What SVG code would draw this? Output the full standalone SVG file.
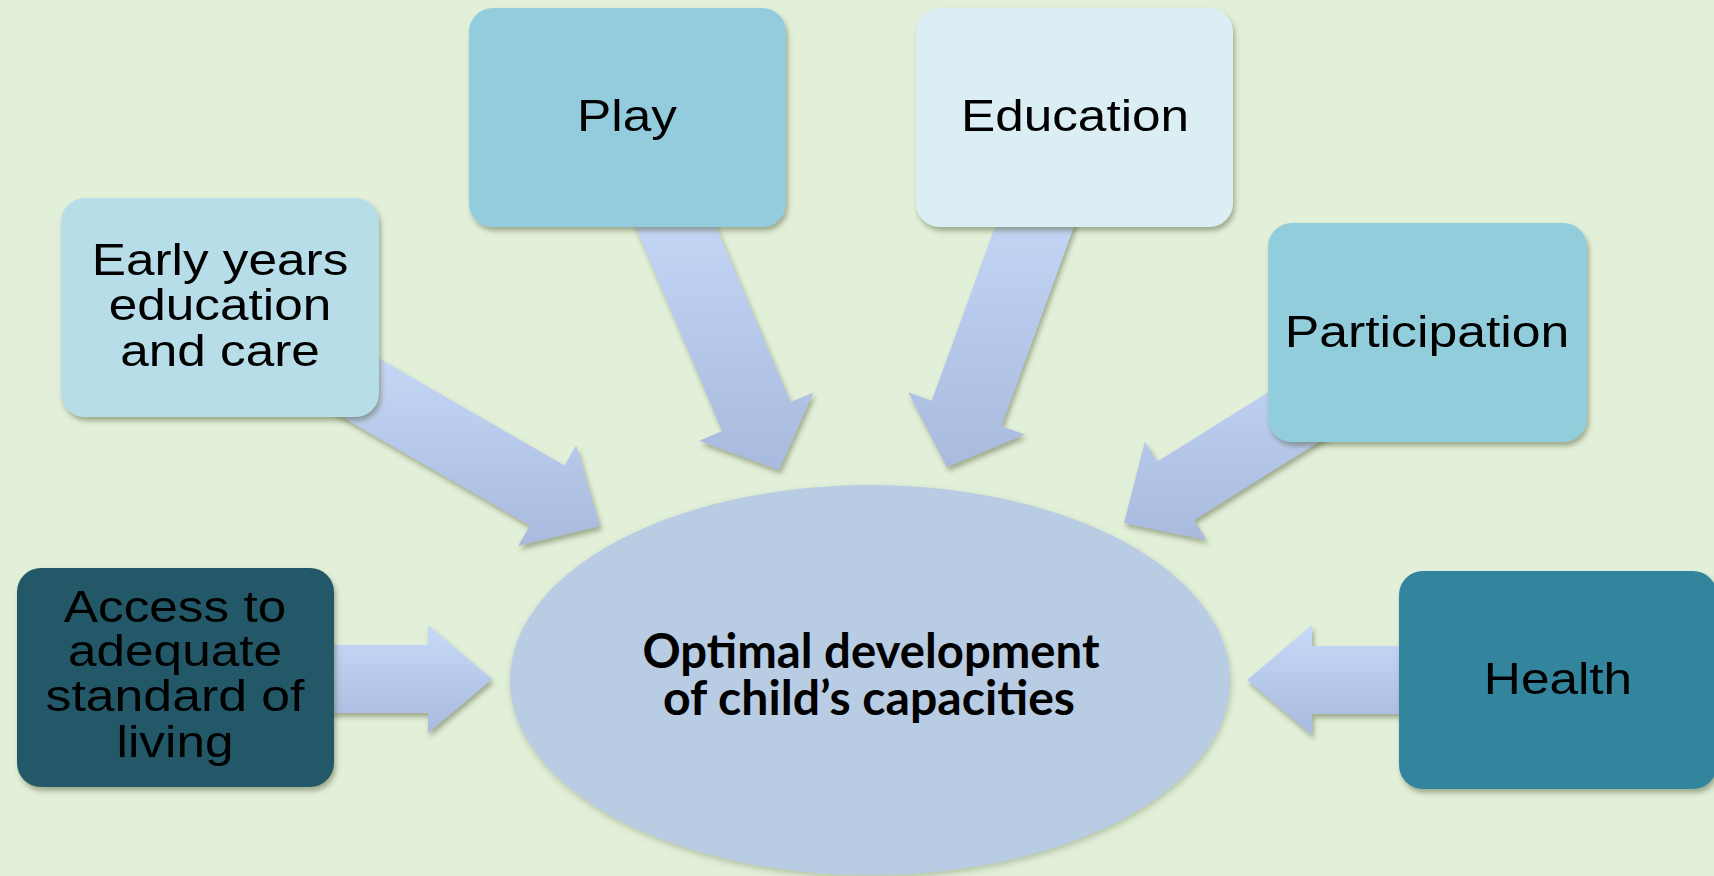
<svg xmlns="http://www.w3.org/2000/svg" width="1714" height="876" viewBox="0 0 1714 876">
  <defs>
    <linearGradient id="arrowGrad" x1="0" y1="0" x2="0" y2="1">
      <stop offset="0" stop-color="#c8daf9"/>
      <stop offset="1" stop-color="#a8badd"/>
    </linearGradient>
    <filter id="shadow" x="-10%" y="-10%" width="125%" height="130%">
      <feDropShadow dx="2" dy="4" stdDeviation="2.5" flood-color="#4d5c33" flood-opacity="0.45"/>
    </filter>
    <filter id="softshadow" x="-5%" y="-5%" width="112%" height="115%">
      <feDropShadow dx="1" dy="3" stdDeviation="3" flood-color="#5a6a40" flood-opacity="0.35"/>
    </filter>
  </defs>
  <style>
    .box { filter: url(#shadow); }
    .arrow { fill: url(#arrowGrad); filter: url(#shadow); }
    .lbl { font-family: "Liberation Sans", Arial, sans-serif; font-size: 45px; fill: #000000; text-anchor: middle; }
    .center { font-family: Lato, "Liberation Sans", sans-serif; font-weight: bold; font-size: 47px; fill: #000000; text-anchor: middle; }
  </style>

  <rect x="0" y="0" width="1714" height="876" fill="#e2efd9"/>

  <g id="center-node">
    <ellipse cx="870" cy="680" rx="360" ry="195" fill="#b8cce4" filter="url(#softshadow)"/>
    <text class="center" x="871" y="668" textLength="457" lengthAdjust="spacingAndGlyphs">Optimal development</text>
    <text class="center" x="869" y="715" textLength="412" lengthAdjust="spacingAndGlyphs">of child’s capacities</text>
  </g>

  <g id="connectors">
    <polygon class="arrow" points="305.6,395.9 530.0,525.4 518.2,545.7 600,526 576.2,445.3 564.5,465.6 340.2,336.1"/>
    <polygon class="arrow" points="627.7,208.3 722.2,431.1 699.2,440.8 779,470 813.4,392.4 790.4,402.1 695.9,179.3"/>
    <polygon class="arrow" points="1014.8,172.4 931.7,400.7 908.2,392.2 947,467 1024.8,434.6 1001.3,426.1 1084.4,197.8"/>
    <polygon class="arrow" points="1385.5,318.8 1157.4,461.4 1145.0,441.5 1124,523 1206.4,539.9 1194.0,520.0 1422.1,377.4"/>
    <polygon class="arrow" points="300,645 428,645 428,625 492,679 428,733 428,713 300,713"/>
    <polygon class="arrow" points="1420,646 1312,646 1312,625 1247,680 1312,735 1312,714 1420,714"/>
  </g>

  <g id="node-early">
    <rect class="box" x="61" y="198" width="318" height="219" rx="24" fill="#b7dee8"/>
    <text class="lbl" transform="translate(220 0) scale(1.14 1)" x="0" y="275">Early years</text>
    <text class="lbl" transform="translate(220 0) scale(1.14 1)" x="0" y="320">education</text>
    <text class="lbl" transform="translate(220 0) scale(1.14 1)" x="0" y="366">and care</text>
  </g>

  <g id="node-play">
    <rect class="box" x="469" y="8" width="317" height="219" rx="24" fill="#93cddd"/>
    <text class="lbl" transform="translate(627 0) scale(1.14 1)" x="0" y="131">Play</text>
  </g>

  <g id="node-education">
    <rect class="box" x="916" y="8" width="317" height="219" rx="24" fill="#dbeef4"/>
    <text class="lbl" transform="translate(1075 0) scale(1.14 1)" x="0" y="131">Education</text>
  </g>

  <g id="node-participation">
    <rect class="box" x="1268" y="223" width="319" height="219" rx="24" fill="#92cddc"/>
    <text class="lbl" transform="translate(1427 0) scale(1.15 1)" x="0" y="347">Participation</text>
  </g>

  <g id="node-access">
    <rect class="box" x="17" y="568" width="317" height="219" rx="24" fill="#215968"/>
    <text class="lbl" transform="translate(175 0) scale(1.14 1)" x="0" y="622">Access to</text>
    <text class="lbl" transform="translate(175 0) scale(1.14 1)" x="0" y="666">adequate</text>
    <text class="lbl" transform="translate(175 0) scale(1.15 1)" x="0" y="711">standard of</text>
    <text class="lbl" transform="translate(175 0) scale(1.14 1)" x="0" y="757">living</text>
  </g>

  <g id="node-health">
    <rect class="box" x="1399" y="571" width="318" height="218" rx="24" fill="#31859c"/>
    <text class="lbl" transform="translate(1558 0) scale(1.14 1)" x="0" y="694">Health</text>
  </g>
</svg>
